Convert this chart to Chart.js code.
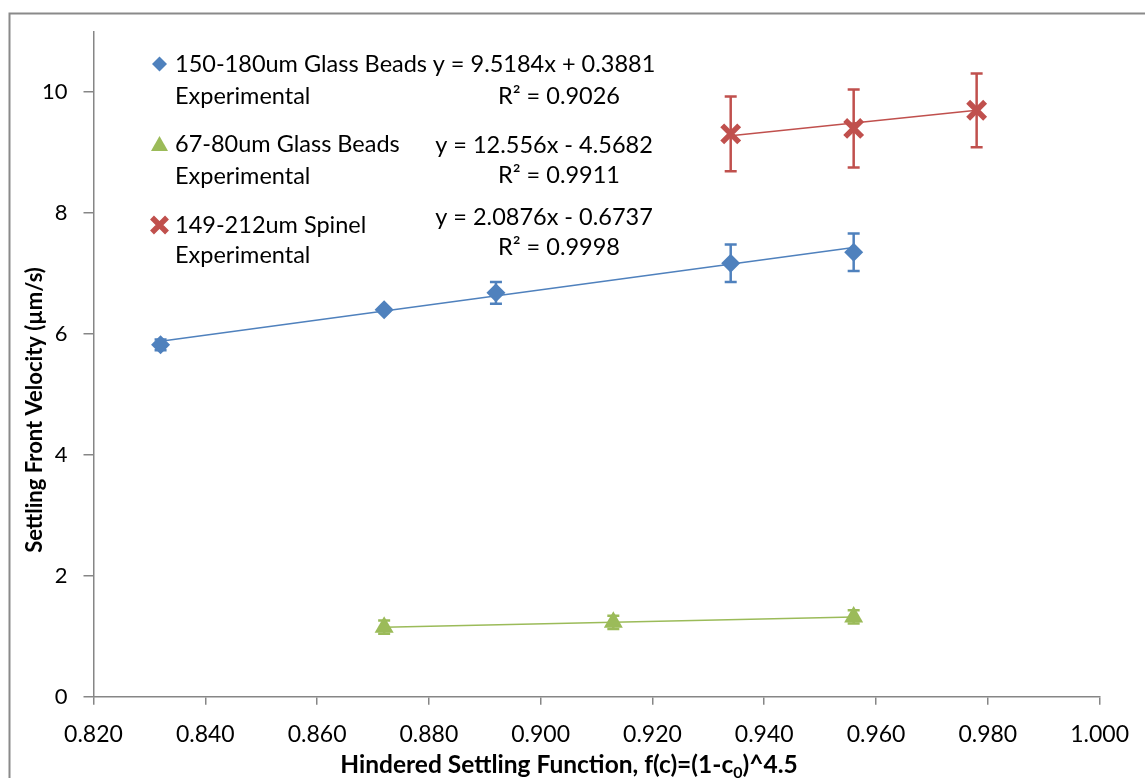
<!DOCTYPE html>
<html>
<head>
<meta charset="utf-8">
<script src="https://cdn.jsdelivr.net/npm/chart.js@4.4.1/dist/chart.umd.min.js"></script>
<style>
  html, body { margin: 0; padding: 0; background: #fff; }
  canvas { display: block; }
</style>
</head>
<body>
<canvas id="chart" width="1145" height="778"></canvas>
<script>
// 150-180um glass beads
const xBlue = [0.832, 0.872, 0.892, 0.934, 0.956];
const yBlue = [5.82, 6.40, 6.68, 7.17, 7.35];
const errBlue = [0.09, 0.03, 0.18, 0.31, 0.31];
// 67-80um glass beads
const xGreen = [0.872, 0.913, 0.956];
const yGreen = [1.15, 1.23, 1.32];
const errGreen = [0.11, 0.11, 0.11];
// 149-212um spinel
const xRed = [0.934, 0.956, 0.978];
const yRed = [9.31, 9.40, 9.70];
const errRed = [0.62, 0.645, 0.61];

// trendline end points
const trendBlueX = [0.832, 0.956];
const trendBlueY = [5.88, 7.43];
const trendGreenX = [0.872, 0.956];
const trendGreenY = [1.15, 1.32];
const trendRedX = [0.934, 0.978];
const trendRedY = [9.28, 9.70];

const seriesNames = ['150-180um Glass Beads', '67-80um Glass Beads', '149-212um Spinel'];
const equations = ['y = 9.5184x + 0.3881', 'y = 12.556x - 4.5682', 'y = 2.0876x - 0.6737'];
const rSquared = ['R\u00B2 = 0.9026', 'R\u00B2 = 0.9911', 'R\u00B2 = 0.9998'];

const BLUE = '#4F81BD', GREEN = '#9BBB59', RED = '#C0504D';
const AXIS = '#868686';
const FONT = 'Lato, "Open Sans", sans-serif';

function pts(xs, ys) {
  return xs.map((x, i) => ({ x: x, y: ys[i] }));
}

// error bars, drawn under the markers
const errorBarPlugin = {
  id: 'errorBars',
  beforeDatasetsDraw(chart) {
    const ctx = chart.ctx;
    const xs = chart.scales.x, ys = chart.scales.y;
    chart.data.datasets.forEach((ds, i) => {
      if (!ds.errorBars) return;
      ctx.save();
      ctx.strokeStyle = ds.borderColor;
      ctx.lineWidth = 2.5;
      ds.data.forEach((p, j) => {
        const e = ds.errorBars[j];
        const px = xs.getPixelForValue(p.x);
        const top = ys.getPixelForValue(p.y + e);
        const bot = ys.getPixelForValue(p.y - e);
        ctx.beginPath();
        ctx.moveTo(px, top); ctx.lineTo(px, bot);
        ctx.moveTo(px - 6, top); ctx.lineTo(px + 6, top);
        ctx.moveTo(px - 6, bot); ctx.lineTo(px + 6, bot);
        ctx.stroke();
      });
      ctx.restore();
    });
  }
};

function drawMarker(ctx, kind, x, y, color) {
  ctx.save();
  ctx.fillStyle = color;
  ctx.strokeStyle = color;
  ctx.beginPath();
  if (kind === 'diamond') {
    ctx.moveTo(x, y - 7.5); ctx.lineTo(x + 7.5, y); ctx.lineTo(x, y + 7.5); ctx.lineTo(x - 7.5, y);
    ctx.closePath(); ctx.fill();
  } else if (kind === 'triangle') {
    ctx.moveTo(x, y - 8); ctx.lineTo(x + 8.5, y + 7); ctx.lineTo(x - 8.5, y + 7);
    ctx.closePath(); ctx.fill();
  } else {
    ctx.lineWidth = 5.5;
    ctx.moveTo(x - 7.5, y - 7.5); ctx.lineTo(x + 7.5, y + 7.5);
    ctx.moveTo(x + 7.5, y - 7.5); ctx.lineTo(x - 7.5, y + 7.5);
    ctx.stroke();
  }
  ctx.restore();
}

// frame, legend, trendline labels and axis titles
const decorPlugin = {
  id: 'decor',
  beforeDraw(chart) {
    const ctx = chart.ctx;
    ctx.save();
    ctx.strokeStyle = '#8a8a8a';
    ctx.lineWidth = 2;
    ctx.strokeRect(9.5, 13.5, 1200, 800);
    ctx.restore();
  },
  afterDraw(chart) {
    const ctx = chart.ctx;
    ctx.save();
    ctx.fillStyle = '#000';
    // legend
    const kinds = ['diamond', 'triangle', 'cross'];
    const colors = [BLUE, GREEN, RED];
    const markY = [64, 144, 225];
    const line1 = [71.5, 151.5, 232.5];
    const line2 = [103.5, 183.5, 262.5];
    ctx.font = '23.5px ' + FONT;
    ctx.textAlign = 'left';
    ctx.textBaseline = 'alphabetic';
    for (let i = 0; i < 3; i++) {
      drawMarker(ctx, kinds[i], 159.5, markY[i], colors[i]);
      ctx.fillText(seriesNames[i], 175, line1[i]);
      ctx.fillText('Experimental', 175, line2[i]);
    }
    // equations
    const eqY = [71.5, 153, 225];
    const r2Y = [103.5, 183, 255];
    ctx.textAlign = 'center';
    for (let i = 0; i < 3; i++) {
      ctx.fillText(equations[i], 544, eqY[i]);
      ctx.fillText(rSquared[i], 559, r2Y[i]);
    }
    // y title
    ctx.save();
    ctx.translate(42, 410);
    ctx.rotate(-Math.PI / 2);
    ctx.font = 'bold 22px ' + FONT;
    ctx.fillText('Settling Front Velocity (\u00B5m/s)', 0, 0);
    ctx.restore();
    // x title with subscript
    const big = 'bold 24.5px ' + FONT, small = 'bold 16px ' + FONT;
    const a = 'Hindered Settling Function, f(c)=(1-c', sub = '0', b = ')^4.5';
    ctx.font = big; const wa = ctx.measureText(a).width, wb = ctx.measureText(b).width;
    ctx.font = small; const ws = ctx.measureText(sub).width;
    let x0 = 569 - (wa + ws + wb) / 2;
    const base = 772.5;
    ctx.textAlign = 'left';
    ctx.font = big; ctx.fillText(a, x0, base);
    ctx.font = small; ctx.fillText(sub, x0 + wa, base + 5);
    ctx.font = big; ctx.fillText(b, x0 + wa + ws, base);
    ctx.restore();
  }
};

new Chart(document.getElementById('chart'), {
  type: 'scatter',
  data: {
    datasets: [
      { label: seriesNames[0], data: pts(xBlue, yBlue), errorBars: errBlue, order: 0,
        pointStyle: 'rectRot', pointRadius: 9.5, backgroundColor: BLUE, borderColor: BLUE, borderWidth: 0 },
      { label: seriesNames[1], data: pts(xGreen, yGreen), errorBars: errGreen, order: 0,
        pointStyle: 'triangle', pointRadius: 11, backgroundColor: GREEN, borderColor: GREEN, borderWidth: 0 },
      { label: seriesNames[2], data: pts(xRed, yRed), errorBars: errRed, order: 0,
        pointStyle: 'crossRot', pointRadius: 12, backgroundColor: RED, borderColor: RED, borderWidth: 5.5 },
      { label: 'trend1', data: pts(trendBlueX, trendBlueY), showLine: true, pointRadius: 0,
        borderColor: BLUE, borderWidth: 1.5, order: 1 },
      { label: 'trend2', data: pts(trendGreenX, trendGreenY), showLine: true, pointRadius: 0,
        borderColor: GREEN, borderWidth: 1.5, order: 1 },
      { label: 'trend3', data: pts(trendRedX, trendRedY), showLine: true, pointRadius: 0,
        borderColor: RED, borderWidth: 1.5, order: 1 }
    ]
  },
  options: {
    responsive: false,
    animation: false,
    layout: { padding: { top: 31.7, right: 34.3, left: 0, bottom: 0 } },
    plugins: { legend: { display: false }, tooltip: { enabled: false } },
    scales: {
      x: {
        type: 'linear', min: 0.82, max: 1.0,
        afterFit: s => { s.height = 81.3; },
        ticks: { stepSize: 0.02, color: '#000', padding: 16,
          font: { family: FONT, size: 23 }, callback: v => v.toFixed(3) },
        grid: { drawOnChartArea: false, tickLength: 8, color: AXIS, lineWidth: 1.5 },
        border: { color: AXIS, width: 1.5 }
      },
      y: {
        min: 0, max: 11,
        afterFit: s => { s.width = 93.5; },
        ticks: { stepSize: 2, includeBounds: false, color: '#000', padding: 16,
          font: { family: FONT, size: 22 } },
        grid: { drawOnChartArea: false, tickLength: 10, color: AXIS, lineWidth: 1.5 },
        border: { color: AXIS, width: 1.5 }
      }
    }
  },
  plugins: [errorBarPlugin, decorPlugin]
});
</script>
</body>
</html>
